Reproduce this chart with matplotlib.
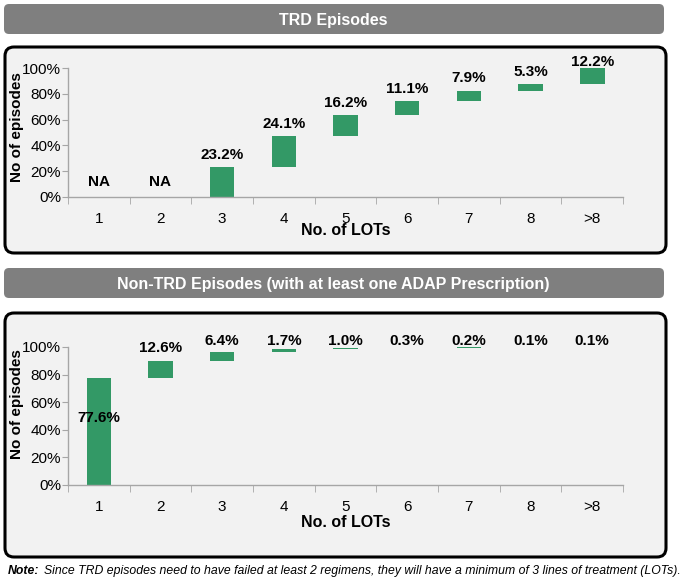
import numpy as np
import matplotlib
matplotlib.use("Agg")
import matplotlib.pyplot as plt
from matplotlib.patches import FancyBboxPatch

lots = ["1", "2", "3", "4", "5", "6", "7", "8", ">8"]
trd_pct = [np.nan, np.nan, 23.2, 24.1, 16.2, 11.1, 7.9, 5.3, 12.2]
non_trd_pct = [77.6, 12.6, 6.4, 1.7, 1.0, 0.3, 0.2, 0.1, 0.1]

trd_title = "TRD Episodes"
non_trd_title = "Non-TRD Episodes (with at least one ADAP Prescription)"
note_text = ("Since TRD episodes need to have failed at least 2 regimens, "
             "they will have a minimum of 3 lines of treatment (LOTs).")

GREEN = "#339966"
AXIS_GRAY = "#a6a6a6"
BANNER_GRAY = "#7f7f7f"
PANEL_FILL = "#f2f2f2"

plt.rcParams["font.family"] = ["Liberation Sans", "DejaVu Sans"]

W, H = 685, 582
fig = plt.figure(figsize=(W / 100, H / 100), dpi=100)

# background layer in pixel coordinates
bg = fig.add_axes([0, 0, 1, 1], zorder=0)
bg.set_xlim(0, W)
bg.set_ylim(H, 0)
bg.axis("off")


def banner(y0, y1, text):
    bg.add_patch(FancyBboxPatch((6, y0 + 2), 656, y1 - y0 - 4,
                                boxstyle="round,pad=2,rounding_size=5",
                                fc=BANNER_GRAY, ec="none"))
    bg.text(333, (y0 + y1) / 2 + 1, text, color="white", fontsize=11.5,
            fontweight="bold", ha="center", va="center")


def panel(y0, y1):
    bg.add_patch(FancyBboxPatch((8, y0 + 3), 655, y1 - y0 - 6,
                                boxstyle="round,pad=3,rounding_size=9",
                                fc=PANEL_FILL, ec="black", lw=2.2))


banner(4, 34, trd_title)
panel(47, 253)
banner(268, 298, non_trd_title)
panel(313, 557)

note = bg.text(8, 571, "Note:", fontsize=8.8, fontweight="bold",
               fontstyle="italic", va="center", ha="left")
bg.annotate(note_text, xy=(1, 0.5), xycoords=note, xytext=(3, 0),
            textcoords="offset points", fontsize=8.8, fontstyle="italic",
            va="center", ha="left")


def waterfall(rect, values, first_inside, ylabel_y, xlabel_y):
    ax = fig.add_axes(rect, zorder=1)
    ax.set_facecolor("none")
    x = np.arange(1, len(lots) + 1)
    vals = np.nan_to_num(np.array(values, dtype=float))
    tops = np.cumsum(vals)
    bases = tops - vals
    ax.bar(x, vals, bottom=bases, width=0.4, color=GREEN)

    for i, v in enumerate(values):
        if np.isnan(v):
            ax.annotate("NA", (x[i], 0), xytext=(0, 6), textcoords="offset points",
                        ha="center", va="bottom", fontsize=11, fontweight="bold")
        elif i == 0 and first_inside:
            ax.text(x[i], tops[i] * 0.63, f"{v:.1f}%", ha="center", va="center",
                    fontsize=11, fontweight="bold")
        else:
            y = min(tops[i] + 4, 99.5)
            ax.text(x[i], y, f"{v:.1f}%", ha="center", va="bottom",
                    fontsize=11, fontweight="bold", clip_on=False)

    ax.set_xlim(0.5, len(lots) + 0.5)
    ax.set_ylim(0, 100)
    ax.set_yticks(np.arange(0, 101, 20))
    ax.set_yticklabels([f"{t}%" for t in range(0, 101, 20)])
    ax.set_xticks(x)
    ax.set_xticklabels(lots)
    ax.set_xticks(np.arange(0.5, len(lots) + 1, 1), minor=True)
    ax.tick_params(axis="x", which="major", length=0, pad=11, labelsize=11)
    ax.tick_params(axis="x", which="minor", length=5, color=AXIS_GRAY, direction="out")
    ax.tick_params(axis="y", length=4, color=AXIS_GRAY, pad=1, labelsize=11)
    for s in ("top", "right"):
        ax.spines[s].set_visible(False)
    for s in ("left", "bottom"):
        ax.spines[s].set_color(AXIS_GRAY)
        ax.spines[s].set_linewidth(1)

    ax.set_ylabel("No of episodes", fontsize=11, fontweight="bold")
    ax.yaxis.set_label_coords(-0.092, ylabel_y)
    ax.yaxis.label.set_va("center")
    ax.set_xlabel("No. of LOTs", fontsize=11.5, fontweight="bold")
    ax.xaxis.set_label_coords(0.5, xlabel_y)
    ax.xaxis.label.set_va("center")
    return ax


waterfall([68 / W, 1 - 197 / H, 555 / W, 129 / H], trd_pct, False, 0.54, -0.26)
waterfall([68 / W, 1 - 485 / H, 555 / W, 138 / H], non_trd_pct, True, 0.59, -0.27)

fig.savefig("out.png", dpi=100)
